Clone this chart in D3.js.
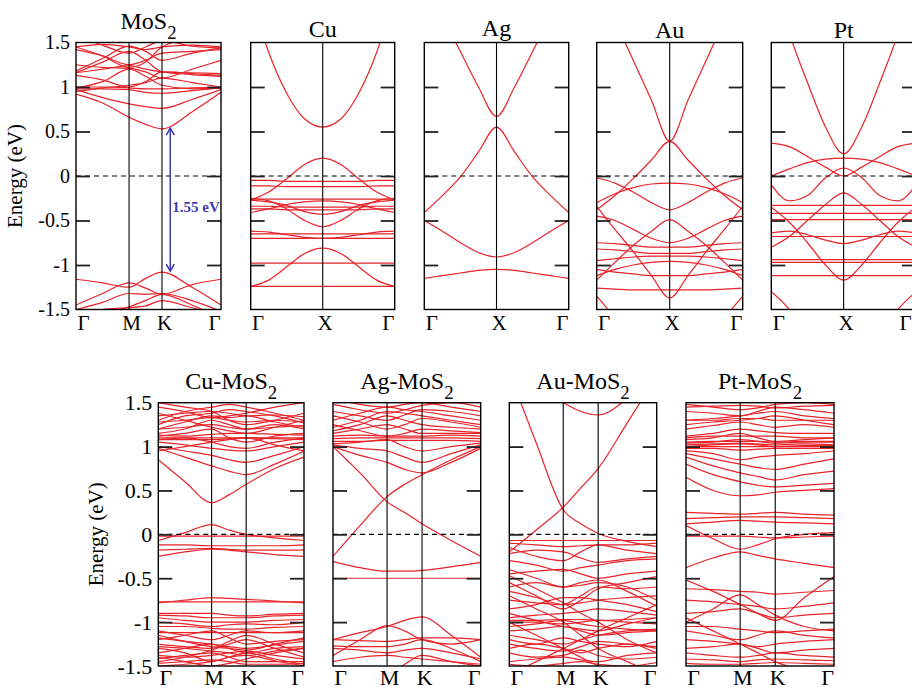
<!DOCTYPE html>
<html><head><meta charset="utf-8">
<script src="https://cdn.jsdelivr.net/npm/d3@7"></script>
<style>
body{margin:0;background:#fff}
svg{display:block}
text{font-family:"Liberation Serif","DejaVu Serif",serif;fill:#000}
</style>
</head><body>
<svg id="c" width="912" height="689"></svg>
<script>
// ---------- data ----------
const energyTicks = [-1.5, -1, -0.5, 0, 0.5, 1, 1.5];
const energyTickLabels = ["-1.5", "-1", "-0.5", "0", "0.5", "1", "1.5"];
const innerTicks = [-1, -0.5, 0, 0.5, 1];

const kHexTop = [0, 0.183, 0.366, 0.48, 0.593, 0.8, 1];
const kHexBot = [0, 0.183, 0.366, 0.485, 0.603, 0.8, 1];
const kFcc = [0, 0.125, 0.25, 0.375, 0.5, 0.625, 0.75, 0.875, 1];

const symHexTop = [0, 0.366, 0.593, 1];
const symHexBot = [0, 0.366, 0.603, 1];
const symFcc = [0, 0.5, 1];
const hexLabels = ["Γ", "M", "K", "Γ"];
const fccLabels = ["Γ", "X", "Γ"];

const gapArrow = [0.55, -1.08];
const gapLabel = "1.55 eV";

const bandsMoS2 = [
  [0.92,0.82,0.66,0.58,0.53,0.72,0.94],
  [0.97,0.88,0.81,0.78,0.76,0.86,0.97],
  [0.98,0.98,0.97,0.94,0.93,0.96,0.99],
  [1.00,1.00,0.99,0.98,0.98,0.99,1.00],
  [0.99,1.06,1.20,1.12,1.02,0.98,0.99],
  [1.13,1.08,1.00,1.06,1.17,1.15,1.13],
  [1.16,1.20,1.24,1.20,1.17,1.16,1.15],
  [1.16,1.28,1.40,1.30,1.17,1.14,1.12],
  [1.42,1.35,1.25,1.30,1.38,1.40,1.42],
  [1.45,1.48,1.45,1.42,1.45,1.47,1.45],
  [1.58,1.47,1.38,1.45,1.52,1.46,1.44],
  [1.25,1.22,1.21,1.17,1.10,1.20,1.30],
  [1.45,1.35,1.22,1.28,1.45,1.55,1.60],
  [1.18,1.32,1.46,1.40,1.30,1.38,1.44],
  [0.95,0.99,1.02,1.05,1.10,1.05,1.00],
  [-1.16,-1.20,-1.25,-1.15,-1.08,-1.25,-1.45],
  [-1.45,-1.32,-1.20,-1.26,-1.33,-1.22,-1.16],
  [-1.50,-1.42,-1.32,-1.33,-1.32,-1.40,-1.52],
  [-1.65,-1.55,-1.47,-1.40,-1.33,-1.45,-1.60],
  [-1.55,-1.50,-1.48,-1.46,-1.40,-1.48,-1.55]
];

const bandsCu = [
  [2.05,1.39,0.93,0.64,0.55,0.64,0.93,1.39,2.05],
  [-0.27,-0.18,-0.03,0.13,0.20,0.13,-0.03,-0.18,-0.27],
  [-0.05,-0.05,-0.06,-0.06,-0.06,-0.06,-0.06,-0.05,-0.05],
  [-0.11,-0.11,-0.12,-0.12,-0.12,-0.12,-0.12,-0.11,-0.11],
  [-0.25,-0.28,-0.37,-0.50,-0.57,-0.50,-0.37,-0.28,-0.25],
  [-0.27,-0.29,-0.33,-0.40,-0.43,-0.40,-0.33,-0.29,-0.27],
  [-0.41,-0.37,-0.32,-0.29,-0.28,-0.29,-0.32,-0.37,-0.41],
  [-0.26,-0.26,-0.26,-0.26,-0.26,-0.26,-0.26,-0.26,-0.26],
  [-0.34,-0.34,-0.35,-0.35,-0.35,-0.35,-0.35,-0.34,-0.34],
  [-0.37,-0.37,-0.38,-0.38,-0.38,-0.38,-0.38,-0.37,-0.37],
  [-0.62,-0.63,-0.66,-0.69,-0.70,-0.69,-0.66,-0.63,-0.62],
  [-0.65,-0.65,-0.65,-0.65,-0.65,-0.65,-0.65,-0.65,-0.65],
  [-0.70,-0.70,-0.70,-0.70,-0.70,-0.70,-0.70,-0.70,-0.70],
  [-1.24,-1.17,-1.02,-0.87,-0.81,-0.87,-1.02,-1.17,-1.24],
  [-0.98,-0.98,-0.98,-0.98,-0.98,-0.98,-0.98,-0.98,-0.98],
  [-1.24,-1.24,-1.24,-1.24,-1.24,-1.24,-1.24,-1.24,-1.24]
];

const bandsAg = [
  [2.20,1.80,1.40,1.00,0.67,1.00,1.40,1.80,2.20],
  [-0.41,-0.22,-0.01,0.27,0.55,0.27,-0.01,-0.22,-0.41],
  [-0.50,-0.62,-0.75,-0.86,-0.91,-0.86,-0.75,-0.62,-0.50],
  [-1.15,-1.12,-1.09,-1.06,-1.05,-1.06,-1.09,-1.12,-1.15]
];

const bandsAu = [
  [2.20,1.75,1.30,0.85,0.39,0.85,1.30,1.75,2.20],
  [-0.38,-0.22,-0.03,0.18,0.39,0.18,-0.03,-0.22,-0.38],
  [-0.02,-0.08,-0.18,-0.30,-0.38,-0.30,-0.18,-0.08,-0.02],
  [-0.30,-0.20,-0.13,-0.09,-0.08,-0.09,-0.13,-0.20,-0.30],
  [-1.17,-0.97,-0.78,-0.62,-0.49,-0.62,-0.78,-0.97,-1.17],
  [-0.34,-0.60,-0.85,-1.12,-1.37,-1.12,-0.85,-0.60,-0.34],
  [-0.75,-0.76,-0.78,-0.80,-0.80,-0.80,-0.78,-0.76,-0.75],
  [-0.82,-0.83,-0.85,-0.87,-0.87,-0.87,-0.85,-0.83,-0.82],
  [-0.95,-0.93,-0.91,-0.90,-0.90,-0.90,-0.91,-0.93,-0.95],
  [-1.12,-1.05,-1.00,-0.97,-0.96,-0.97,-1.00,-1.05,-1.12],
  [-1.05,-1.08,-1.10,-1.12,-1.12,-1.12,-1.10,-1.08,-1.05],
  [-1.26,-1.27,-1.28,-1.28,-1.28,-1.28,-1.28,-1.27,-1.26],
  [-1.35,-1.60,-1.90,-2.10,-2.20,-2.10,-1.90,-1.60,-1.35],
  [-0.45,-0.50,-0.60,-0.70,-0.75,-0.70,-0.60,-0.50,-0.45]
];

const bandsPt = [
  [2.30,1.60,1.05,0.55,0.25,0.55,1.05,1.60,2.30],
  [0.37,0.33,0.22,0.10,0.00,0.10,0.22,0.33,0.37],
  [0.00,0.08,0.15,0.19,0.20,0.19,0.15,0.08,0.00],
  [-0.10,-0.28,-0.22,-0.02,0.09,-0.02,-0.22,-0.28,-0.10],
  [-0.80,-0.68,-0.50,-0.32,-0.19,-0.32,-0.50,-0.68,-0.80],
  [-0.35,-0.52,-0.75,-1.00,-1.17,-1.00,-0.75,-0.52,-0.35],
  [-0.64,-0.62,-0.66,-0.72,-0.76,-0.72,-0.66,-0.62,-0.64],
  [-0.33,-0.33,-0.33,-0.33,-0.33,-0.33,-0.33,-0.33,-0.33],
  [-0.42,-0.42,-0.42,-0.42,-0.42,-0.42,-0.42,-0.42,-0.42],
  [-0.49,-0.49,-0.49,-0.49,-0.49,-0.49,-0.49,-0.49,-0.49],
  [-0.68,-0.68,-0.68,-0.68,-0.68,-0.68,-0.68,-0.68,-0.68],
  [-0.94,-0.94,-0.94,-0.94,-0.94,-0.94,-0.94,-0.94,-0.94],
  [-0.97,-0.97,-0.97,-0.97,-0.97,-0.97,-0.97,-0.97,-0.97],
  [-1.12,-1.12,-1.12,-1.12,-1.12,-1.12,-1.12,-1.12,-1.12],
  [-1.30,-1.50,-1.80,-2.00,-2.10,-2.00,-1.80,-1.50,-1.30]
];

const bandsCuMoS2 = [
  [0.85,0.60,0.36,0.45,0.57,0.75,0.88],
  [0.98,0.88,0.78,0.72,0.68,0.80,0.95],
  [1.00,0.95,0.90,0.85,0.82,0.90,1.00],
  [1.05,1.02,0.98,0.96,0.95,1.00,1.05],
  [1.08,1.10,1.05,1.00,0.98,1.05,1.10],
  [1.12,1.15,1.20,1.10,1.05,1.12,1.15],
  [1.15,1.20,1.30,1.25,1.20,1.25,1.20],
  [1.20,1.28,1.35,1.33,1.35,1.28,1.22],
  [1.25,1.35,1.38,1.42,1.40,1.35,1.27],
  [1.30,1.40,1.45,1.48,1.45,1.38,1.30],
  [1.45,1.40,1.33,1.35,1.38,1.45,1.50],
  [1.50,1.45,1.40,1.30,1.25,1.30,1.38],
  [1.10,1.10,1.10,1.10,1.10,1.10,1.10],
  [1.13,1.12,1.14,1.15,1.15,1.14,1.13],
  [1.38,1.30,1.22,1.18,1.15,1.22,1.30],
  [0.95,1.00,1.05,1.08,1.10,1.02,0.95],
  [1.08,1.08,1.08,1.09,1.10,1.09,1.08],
  [1.20,1.22,1.25,1.22,1.20,1.22,1.24],
  [1.28,1.30,1.33,1.30,1.28,1.30,1.28],
  [1.35,1.38,1.40,1.38,1.35,1.36,1.34],
  [-0.07,0.02,0.11,0.05,0.00,-0.04,-0.07],
  [-0.02,-0.02,-0.02,-0.02,-0.02,-0.02,-0.02],
  [-0.12,-0.12,-0.13,-0.13,-0.13,-0.13,-0.12],
  [-0.25,-0.20,-0.17,-0.18,-0.20,-0.23,-0.25],
  [-0.18,-0.17,-0.16,-0.17,-0.18,-0.18,-0.18],
  [-0.77,-0.77,-0.77,-0.77,-0.77,-0.77,-0.77],
  [-0.78,-0.75,-0.72,-0.73,-0.74,-0.76,-0.78],
  [-0.90,-0.90,-0.90,-0.92,-0.93,-0.91,-0.90],
  [-0.92,-0.93,-0.95,-0.95,-0.95,-0.93,-0.92],
  [-0.95,-0.98,-1.00,-1.00,-1.00,-0.98,-0.97],
  [-1.00,-1.02,-1.05,-1.03,-1.02,-1.03,-1.00],
  [-1.05,-1.05,-1.07,-1.08,-1.08,-1.06,-1.05],
  [-1.10,-1.15,-1.20,-1.15,-1.10,-1.12,-1.10],
  [-1.12,-1.12,-1.12,-1.12,-1.12,-1.12,-1.12],
  [-1.18,-1.22,-1.25,-1.28,-1.30,-1.26,-1.22],
  [-1.20,-1.15,-1.10,-1.18,-1.25,-1.22,-1.20],
  [-1.25,-1.28,-1.30,-1.22,-1.15,-1.25,-1.35],
  [-1.28,-1.30,-1.33,-1.35,-1.38,-1.33,-1.30],
  [-1.35,-1.30,-1.25,-1.30,-1.35,-1.30,-1.28],
  [-1.38,-1.40,-1.38,-1.35,-1.33,-1.38,-1.42],
  [-1.42,-1.38,-1.35,-1.40,-1.45,-1.45,-1.45],
  [-1.45,-1.40,-1.32,-1.25,-1.20,-1.30,-1.40],
  [-1.47,-1.45,-1.43,-1.45,-1.48,-1.48,-1.47],
  [-1.50,-1.48,-1.45,-1.40,-1.35,-1.42,-1.48],
  [-1.40,-1.45,-1.50,-1.47,-1.42,-1.35,-1.30],
  [-1.30,-1.35,-1.45,-1.40,-1.38,-1.44,-1.50],
  [-1.15,-1.22,-1.28,-1.30,-1.32,-1.25,-1.18]
];

const bandsAgMoS2 = [
  [1.00,0.70,0.37,0.25,0.12,-0.07,-0.25],
  [-0.25,0.10,0.43,0.57,0.68,0.85,1.00],
  [1.00,0.90,0.82,0.74,0.70,0.82,0.98],
  [1.02,0.98,0.95,0.88,0.82,0.92,1.02],
  [1.03,1.05,1.08,1.00,0.95,1.00,1.04],
  [1.06,1.06,1.07,1.07,1.07,1.07,1.06],
  [1.09,1.10,1.10,1.10,1.10,1.10,1.09],
  [1.12,1.13,1.12,1.12,1.12,1.13,1.12],
  [1.15,1.20,1.25,1.20,1.15,1.15,1.15],
  [1.18,1.25,1.35,1.30,1.25,1.22,1.20],
  [1.22,1.30,1.40,1.38,1.35,1.30,1.25],
  [1.30,1.38,1.45,1.42,1.40,1.35,1.30],
  [1.40,1.35,1.30,1.36,1.42,1.40,1.35],
  [1.48,1.42,1.38,1.42,1.47,1.50,1.45],
  [1.55,1.48,1.45,1.48,1.50,1.45,1.40],
  [1.25,1.18,1.12,1.15,1.20,1.18,1.16],
  [1.35,1.28,1.20,1.25,1.32,1.28,1.22],
  [-0.31,-0.38,-0.42,-0.42,-0.41,-0.37,-0.32],
  [-0.50,-0.50,-0.50,-0.50,-0.50,-0.50,-0.50],
  [-1.20,-1.12,-1.05,-0.98,-0.94,-1.15,-1.40],
  [-1.38,-1.20,-1.04,-1.10,-1.20,-1.25,-1.20],
  [-1.20,-1.21,-1.22,-1.20,-1.18,-1.18,-1.20],
  [-1.27,-1.28,-1.28,-1.25,-1.20,-1.30,-1.45],
  [-1.30,-1.32,-1.35,-1.32,-1.30,-1.35,-1.42],
  [-1.45,-1.40,-1.38,-1.40,-1.42,-1.45,-1.48],
  [-1.50,-1.55,-1.60,-1.48,-1.38,-1.45,-1.50]
];

const bandsAuMoS2 = [
  [1.85,1.04,0.28,0.12,0.01,-0.08,-0.14],
  [-0.20,0.05,0.31,0.53,0.75,1.27,1.80],
  [2.00,1.70,1.50,1.40,1.36,1.55,1.90],
  [-0.07,-0.07,-0.07,-0.07,-0.07,-0.07,-0.07],
  [-0.10,-0.12,-0.14,-0.13,-0.12,-0.12,-0.10],
  [-0.15,-0.25,-0.30,-0.20,-0.12,-0.18,-0.22],
  [-0.22,-0.18,-0.20,-0.27,-0.32,-0.28,-0.25],
  [-0.30,-0.35,-0.42,-0.38,-0.35,-0.30,-0.28],
  [-0.45,-0.42,-0.40,-0.45,-0.50,-0.45,-0.42],
  [-0.47,-0.62,-0.78,-0.90,-1.00,-1.20,-1.35],
  [-0.40,-0.50,-0.60,-0.55,-0.52,-0.65,-0.82],
  [-0.60,-0.55,-0.60,-0.58,-0.55,-0.60,-0.75],
  [-0.55,-0.70,-0.85,-0.75,-0.62,-0.55,-0.48],
  [-0.65,-0.72,-0.80,-0.70,-0.60,-0.62,-0.60],
  [-0.75,-0.78,-0.80,-0.78,-0.75,-0.72,-0.70],
  [-0.85,-0.80,-0.72,-0.72,-0.75,-0.80,-0.88],
  [-0.95,-0.92,-0.90,-0.88,-0.85,-0.88,-0.92],
  [-0.98,-0.98,-0.97,-0.97,-0.98,-0.97,-0.95],
  [-1.00,-1.00,-1.02,-1.00,-0.98,-1.00,-1.02],
  [-1.05,-1.02,-0.98,-1.02,-1.05,-1.08,-1.10],
  [-0.90,-0.98,-1.05,-1.08,-1.10,-1.02,-0.95],
  [-1.10,-1.08,-1.05,-1.10,-1.15,-1.12,-1.10],
  [-1.15,-1.20,-1.25,-1.20,-1.15,-1.10,-1.08],
  [-1.20,-1.25,-1.18,-1.22,-1.25,-1.28,-1.22],
  [-1.25,-1.30,-1.33,-1.28,-1.22,-1.25,-1.28],
  [-1.30,-1.25,-1.30,-1.35,-1.30,-1.25,-1.30],
  [-1.35,-1.40,-1.38,-1.32,-1.38,-1.42,-1.40],
  [-1.45,-1.42,-1.40,-1.43,-1.45,-1.38,-1.35],
  [-1.48,-1.50,-1.47,-1.45,-1.48,-1.50,-1.46],
  [-1.00,-1.15,-1.30,-1.40,-1.50,-1.60,-1.70],
  [-1.60,-1.45,-1.30,-1.20,-1.10,-0.95,-0.80],
  [-0.70,-0.85,-1.00,-1.15,-1.30,-1.45,-1.60]
];

const bandsPtMoS2 = [
  [0.65,0.50,0.44,0.45,0.48,0.50,0.52],
  [0.80,0.68,0.60,0.56,0.54,0.56,0.58],
  [0.88,0.78,0.70,0.66,0.62,0.68,0.72],
  [0.92,0.86,0.80,0.76,0.74,0.80,0.86],
  [0.95,0.92,0.85,0.88,0.90,0.92,0.95],
  [0.98,0.98,0.96,0.97,0.98,0.98,0.98],
  [1.00,1.00,1.00,1.00,1.00,1.00,1.00],
  [1.00,1.02,1.03,1.02,1.00,1.01,1.01],
  [1.02,1.03,1.04,1.03,1.02,1.03,1.02],
  [1.04,1.05,1.08,1.06,1.04,1.05,1.05],
  [1.05,1.06,1.06,1.06,1.05,1.06,1.06],
  [1.08,1.10,1.15,1.10,1.06,1.08,1.10],
  [1.10,1.12,1.12,1.12,1.12,1.10,1.10],
  [1.12,1.15,1.20,1.18,1.16,1.15,1.15],
  [1.20,1.24,1.28,1.25,1.22,1.25,1.22],
  [1.25,1.28,1.30,1.32,1.35,1.30,1.25],
  [1.30,1.30,1.32,1.32,1.30,1.30,1.30],
  [1.30,1.32,1.35,1.38,1.40,1.35,1.32],
  [1.40,1.38,1.35,1.40,1.45,1.42,1.38],
  [1.45,1.46,1.47,1.46,1.44,1.46,1.47],
  [1.48,1.45,1.42,1.44,1.48,1.50,1.48],
  [0.25,0.24,0.23,0.24,0.25,0.23,0.22],
  [0.18,0.19,0.20,0.20,0.20,0.19,0.18],
  [0.12,0.14,0.16,0.15,0.14,0.13,0.12],
  [0.10,-0.05,-0.17,-0.12,-0.05,0.00,0.02],
  [-0.02,-0.02,-0.02,-0.03,-0.04,-0.03,-0.02],
  [-0.38,-0.27,-0.20,-0.24,-0.28,-0.33,-0.38],
  [-0.52,-0.65,-0.80,-0.90,-0.98,-0.72,-0.48],
  [-1.00,-0.85,-0.69,-0.80,-0.92,-1.05,-1.10],
  [-0.62,-0.63,-0.65,-0.66,-0.68,-0.66,-0.64],
  [-0.75,-0.77,-0.80,-0.82,-0.85,-0.82,-0.78],
  [-0.90,-0.88,-0.85,-0.90,-0.95,-0.92,-0.90],
  [-1.05,-1.05,-1.08,-1.10,-1.12,-1.10,-1.08],
  [-1.10,-1.15,-1.20,-1.15,-1.10,-1.15,-1.18],
  [-1.20,-1.22,-1.25,-1.28,-1.25,-1.22,-1.20],
  [-1.30,-1.28,-1.25,-1.30,-1.35,-1.32,-1.30],
  [-1.35,-1.38,-1.40,-1.38,-1.35,-1.38,-1.40],
  [-1.42,-1.43,-1.45,-1.43,-1.42,-1.43,-1.44],
  [-1.47,-1.48,-1.48,-1.47,-1.46,-1.47,-1.48],
  [-0.95,-1.10,-1.25,-1.35,-1.45,-1.55,-1.60]
];

// ---------- drawing ----------
const svg = d3.select("#c");
const RED = "#e8232a";
let clipId = 0;

function drawPanel(p) {
  const x = d3.scaleLinear().domain([0, 1]).range([p.x0, p.x1]);
  const y = d3.scaleLinear().domain([-1.5, 1.5]).range([p.y1, p.y0]);
  const g = svg.append("g");
  const id = "clip" + (clipId++);
  svg.append("clipPath").attr("id", id)
    .append("rect").attr("x", p.x0).attr("y", p.y0)
    .attr("width", p.x1 - p.x0).attr("height", p.y1 - p.y0);

  const line = d3.line()
    .x((d, i) => x(p.k[i]))
    .y(d => y(d))
    .curve(d3.curveMonotoneX);

  g.append("g").attr("clip-path", `url(#${id})`)
    .selectAll("path").data(p.bands).join("path")
    .attr("d", line).attr("fill", "none")
    .attr("stroke", RED).attr("stroke-width", 1.2);

  g.selectAll("line.sym").data(p.sym.slice(1, -1)).join("line")
    .attr("x1", d => x(d)).attr("x2", d => x(d))
    .attr("y1", p.y0).attr("y2", p.y1)
    .attr("stroke", "#000").attr("stroke-width", 1.1);

  g.append("line").attr("x1", p.x0).attr("x2", p.x1)
    .attr("y1", y(0)).attr("y2", y(0))
    .attr("stroke", "#000").attr("stroke-width", 1.2)
    .attr("stroke-dasharray", "5,4");

  const axL = d3.axisLeft(y).tickValues(innerTicks).tickSizeInner(-14).tickSizeOuter(0).tickFormat("");
  const axR = d3.axisRight(y).tickValues(innerTicks).tickSizeInner(-14).tickSizeOuter(0).tickFormat("");
  const gl = g.append("g").attr("transform", `translate(${p.x0},0)`).call(axL);
  const gr = g.append("g").attr("transform", `translate(${p.x1},0)`).call(axR);
  [gl, gr].forEach(a => {
    a.select(".domain").remove();
    a.selectAll(".tick line").attr("stroke", "#222").attr("stroke-width", 1.8);
  });

  g.append("rect").attr("x", p.x0).attr("y", p.y0)
    .attr("width", p.x1 - p.x0).attr("height", p.y1 - p.y0)
    .attr("fill", "none").attr("stroke", "#000").attr("stroke-width", 1.4);

  if (p.yLabels) {
    const ay = d3.axisLeft(y).tickValues(energyTicks)
      .tickFormat((d, i) => energyTickLabels[i]).tickSize(0).tickPadding(6);
    const ga = g.append("g").attr("transform", `translate(${p.x0},0)`).call(ay);
    ga.select(".domain").remove();
    ga.selectAll("text").attr("font-size", p.yFont).attr("fill", "#000");
    g.append("text")
      .attr("transform", `translate(${p.eLabelX},${(p.y0 + p.y1) / 2}) rotate(-90)`)
      .attr("text-anchor", "middle").attr("font-size", 21)
      .text("Energy (eV)");
  }

  const ax = d3.axisBottom(x).tickValues(p.sym)
    .tickFormat((d, i) => p.symLabels[i]).tickSize(0).tickPadding(0);
  const gx = g.append("g").attr("transform", `translate(0,${p.y1})`).call(ax);
  gx.select(".domain").remove();
  const n = p.sym.length;
  gx.selectAll("text")
    .attr("font-size", p.xFont).attr("fill", "#000")
    .attr("dy", null).attr("y", p.xLabelDy)
    .attr("dx", (d, i) => i === 0 ? 7 : (i === n - 1 ? (p.lastDx || -7) : 2));

  const t = g.append("text").attr("x", (p.x0 + p.x1) / 2).attr("y", p.titleY)
    .attr("text-anchor", "middle").attr("font-size", p.titleFont);
  t.append("tspan").text(p.title);
  if (p.sub) t.append("tspan").attr("dy", p.titleFont * 0.42)
    .attr("font-size", p.titleFont * 0.78).text(p.sub);

  return { x, y, g };
}

const topY0 = 42.5, topY1 = 309.5;
const botY0 = 402.7, botY1 = 666;

const mos2 = drawPanel({ x0: 76, x1: 221, y0: topY0, y1: topY1, k: kHexTop, sym: symHexTop,
  symLabels: hexLabels, bands: bandsMoS2, title: "MoS", sub: "2", titleY: 29, titleFont: 24,
  yLabels: true, yFont: 20, eLabelX: 22, xFont: 21, xLabelDy: 20 });
drawPanel({ x0: 250.7, x1: 394.7, y0: topY0, y1: topY1, k: kFcc, sym: symFcc,
  symLabels: fccLabels, bands: bandsCu, title: "Cu", titleY: 37, titleFont: 24, xFont: 21, xLabelDy: 20 });
drawPanel({ x0: 424.3, x1: 568.7, y0: topY0, y1: topY1, k: kFcc, sym: symFcc,
  symLabels: fccLabels, bands: bandsAg, title: "Ag", titleY: 36, titleFont: 24, xFont: 21, xLabelDy: 20 });
drawPanel({ x0: 596.7, x1: 742.7, y0: topY0, y1: topY1, k: kFcc, sym: symFcc,
  symLabels: fccLabels, bands: bandsAu, title: "Au", titleY: 38, titleFont: 24, xFont: 21, xLabelDy: 20 });
drawPanel({ x0: 771.3, x1: 916, y0: topY0, y1: topY1, k: kFcc, sym: symFcc,
  symLabels: fccLabels, bands: bandsPt, title: "Pt", titleY: 38, titleFont: 24, xFont: 21, xLabelDy: 20,
  lastDx: -11 });

drawPanel({ x0: 158.3, x1: 304, y0: botY0, y1: botY1, k: kHexBot, sym: symHexBot,
  symLabels: hexLabels, bands: bandsCuMoS2, title: "Cu-MoS", sub: "2", titleY: 389, titleFont: 24,
  yLabels: true, yFont: 22, eLabelX: 103, xFont: 22, xLabelDy: 19 });
drawPanel({ x0: 333, x1: 480.7, y0: botY0, y1: botY1, k: kHexBot, sym: symHexBot,
  symLabels: hexLabels, bands: bandsAgMoS2, title: "Ag-MoS", sub: "2", titleY: 389, titleFont: 24,
  xFont: 22, xLabelDy: 19 });
drawPanel({ x0: 509.3, x1: 656.7, y0: botY0, y1: botY1, k: kHexBot, sym: symHexBot,
  symLabels: hexLabels, bands: bandsAuMoS2, title: "Au-MoS", sub: "2", titleY: 389, titleFont: 24,
  xFont: 22, xLabelDy: 19 });
drawPanel({ x0: 686, x1: 834, y0: botY0, y1: botY1, k: kHexBot, sym: symHexBot,
  symLabels: hexLabels, bands: bandsPtMoS2, title: "Pt-MoS", sub: "2", titleY: 389, titleFont: 24,
  xFont: 22, xLabelDy: 19 });

// gap arrow in MoS2 panel
const BLUE = "#3d3db4";
const ax0 = mos2.x(0.65);
const ya = mos2.y(gapArrow[0]), yb = mos2.y(gapArrow[1]);
mos2.g.append("line").attr("x1", ax0).attr("x2", ax0).attr("y1", ya + 1).attr("y2", yb - 1)
  .attr("stroke", BLUE).attr("stroke-width", 1.5);
mos2.g.append("path").attr("d", `M${ax0 - 4},${ya + 8} L${ax0},${ya + 1} L${ax0 + 4},${ya + 8}`)
  .attr("fill", "none").attr("stroke", BLUE).attr("stroke-width", 1.6);
mos2.g.append("path").attr("d", `M${ax0 - 4},${yb - 8} L${ax0},${yb - 1} L${ax0 + 4},${yb - 8}`)
  .attr("fill", "none").attr("stroke", BLUE).attr("stroke-width", 1.6);
mos2.g.append("text").attr("x", ax0 + 2).attr("y", mos2.y(-0.35) + 5)
  .attr("text-anchor", "start").attr("font-size", 15).attr("font-weight", "bold")
  .style("fill", BLUE).text(gapLabel);
</script>
</body></html>
